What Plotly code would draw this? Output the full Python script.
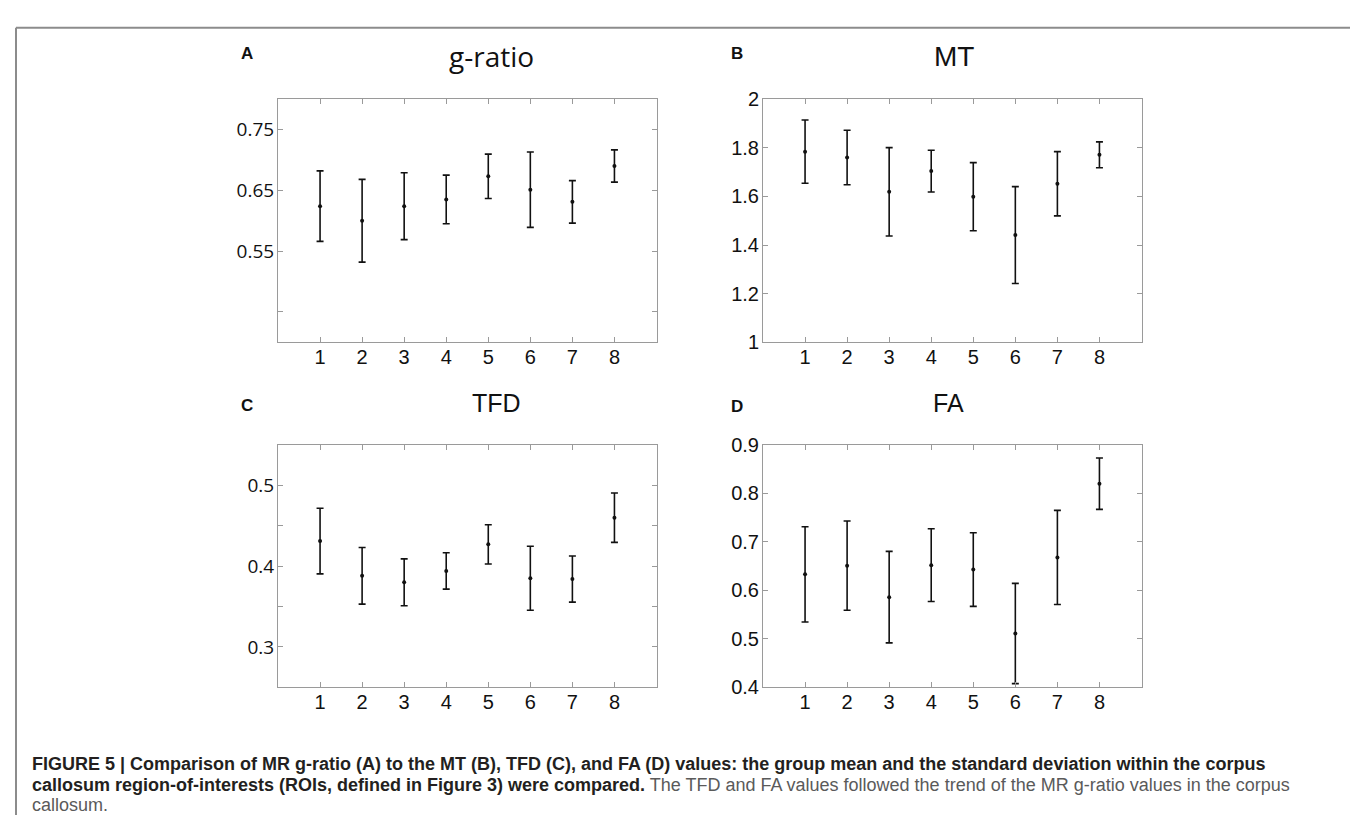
import plotly.graph_objects as go

W, H = 1358, 818

# ---------------- data ----------------
rois = [1, 2, 3, 4, 5, 6, 7, 8]
x_tick_labels = ["1", "2", "3", "4", "5", "6", "7", "8"]

gratio_mean = [0.624, 0.600, 0.624, 0.635, 0.673, 0.651, 0.631, 0.690]
gratio_sd = [0.058, 0.068, 0.055, 0.040, 0.0365, 0.062, 0.035, 0.0265]

mt_mean = [1.784, 1.760, 1.619, 1.704, 1.599, 1.441, 1.652, 1.771]
mt_sd = [0.130, 0.112, 0.1815, 0.086, 0.140, 0.199, 0.132, 0.053]

tfd_mean = [0.431, 0.388, 0.380, 0.394, 0.427, 0.385, 0.384, 0.460]
tfd_sd = [0.0406, 0.035, 0.029, 0.0225, 0.0243, 0.0396, 0.0286, 0.0306]

fa_mean = [0.633, 0.651, 0.586, 0.652, 0.643, 0.511, 0.668, 0.820]
fa_sd = [0.0983, 0.092, 0.0944, 0.075, 0.076, 0.1034, 0.097, 0.053]

gratio_yticks = [0.45, 0.55, 0.65, 0.75]
gratio_ylabels = ["", "0.55", "0.65", "0.75"]
mt_yticks = [1, 1.2, 1.4, 1.6, 1.8, 2]
mt_ylabels = ["1", "1.2", "1.4", "1.6", "1.8", "2"]
tfd_yticks = [0.3, 0.35, 0.4, 0.45, 0.5]
tfd_ylabels = ["0.3", "", "0.4", "", "0.5"]
fa_yticks = [0.4, 0.5, 0.6, 0.7, 0.8, 0.9]
fa_ylabels = ["0.4", "0.5", "0.6", "0.7", "0.8", "0.9"]

titles = ["g-ratio", "MT", "TFD", "FA"]
panel_letters = ["A", "B", "C", "D"]
caption_bold_1 = ("FIGURE 5 | Comparison of MR g-ratio (A) to the MT (B), TFD (C), and FA (D) values: "
                  "the group mean and the standard deviation within the corpus")
caption_bold_2 = "callosum region-of-interests (ROIs, defined in Figure 3) were compared."
caption_norm_2 = " The TFD and FA values followed the trend of the MR g-ratio values in the corpus"
caption_norm_3 = "callosum."

# ---------------- geometry helpers ----------------
def px_x(v):
    return v / W

def px_y(v):
    return 1 - v / H

panels = [
    dict(mean=gratio_mean, sd=gratio_sd, yr=[0.4, 0.8], yt=gratio_yticks, yl=gratio_ylabels,
         xd=[px_x(270), px_x(648.5)], yd=[px_y(332.3), px_y(82.3)], yfont="Open Sans", yfs=19,
         xfont="Liberation Sans", xfs=20),
    dict(mean=mt_mean, sd=mt_sd, yr=[1, 2], yt=mt_yticks, yl=mt_ylabels,
         xd=[px_x(755), px_x(1133.5)], yd=[px_y(332.3), px_y(82.3)], yfont="Liberation Sans", yfs=20,
         xfont="Liberation Sans", xfs=20),
    dict(mean=tfd_mean, sd=tfd_sd, yr=[0.25, 0.55], yt=tfd_yticks, yl=tfd_ylabels,
         xd=[px_x(270), px_x(648.5)], yd=[px_y(686.8), px_y(437.7)], yfont="Open Sans", yfs=19,
         xfont="Liberation Sans", xfs=20),
    dict(mean=fa_mean, sd=fa_sd, yr=[0.4, 0.9], yt=fa_yticks, yl=fa_ylabels,
         xd=[px_x(755), px_x(1133.5)], yd=[px_y(686.8), px_y(437.7)], yfont="Liberation Sans", yfs=20,
         xfont="Liberation Sans", xfs=20),
]

fig = go.Figure()
layout = dict(
    width=W, height=H, autosize=False,
    margin=dict(l=0, r=0, t=0, b=0),
    paper_bgcolor="white", plot_bgcolor="white",
    showlegend=False,
)

axis_color = "#9a9a9a"
for i, p in enumerate(panels):
    n = "" if i == 0 else str(i + 1)
    fig.add_trace(go.Scatter(
        x=rois, y=p["mean"], mode="markers",
        marker=dict(color="#111111", size=4),
        error_y=dict(type="data", array=p["sd"], symmetric=True,
                     color="#111111", thickness=1.6, width=3.5),
        xaxis="x" + n, yaxis="y" + n,
    ))
    layout["xaxis" + n] = dict(
        domain=p["xd"], anchor="y" + n, range=[0, 9],
        tickmode="array", tickvals=rois, ticktext=x_tick_labels,
        ticks="inside", ticklen=5, tickcolor=axis_color, tickwidth=1,
        showline=True, linecolor=axis_color, linewidth=1, mirror="ticks",
        showgrid=False, zeroline=False, ticklabelstandoff=-3,
        tickfont=dict(family=p["xfont"], size=p["xfs"], color="#111111"),
    )
    layout["yaxis" + n] = dict(
        domain=p["yd"], anchor="x" + n, range=p["yr"],
        tickmode="array", tickvals=p["yt"], ticktext=p["yl"],
        ticks="inside", ticklen=5, tickcolor=axis_color, tickwidth=1,
        showline=True, linecolor=axis_color, linewidth=1, mirror="ticks",
        showgrid=False, zeroline=False, ticklabelstandoff=-1,
        tickfont=dict(family=p["yfont"], size=p["yfs"], color="#111111"),
    )

fig.update_layout(**layout)

annotations = []
# panel letters
letter_pos = [(239.3, 35.7), (729, 35.7), (239.3, 397.3), (729, 398)]
for letter, (lx, ly) in zip(panel_letters, letter_pos):
    annotations.append(dict(
        text="<b>" + letter + "</b>", x=px_x(lx), y=px_y(ly), xref="paper", yref="paper",
        xanchor="center", yanchor="middle", showarrow=False,
        font=dict(family="Liberation Sans", size=17, color="#111111"),
    ))

# panel titles
title_specs = [
    (483.3, 38.5, "Open Sans", 28),
    (945.7, 38.5, "Liberation Sans", 28),
    (488.3, 394.5, "Liberation Sans", 25),
    (940.7, 394.5, "Liberation Sans", 25),
]
for t, (tx, ty, ff, fs) in zip(titles, title_specs):
    annotations.append(dict(
        text=t, x=px_x(tx), y=px_y(ty), xref="paper", yref="paper",
        xanchor="center", yanchor="middle", showarrow=False,
        font=dict(family=ff, size=fs, color="#111111"),
    ))

# caption
cap_font = dict(family="Liberation Sans", size=18, color="#231f20")
annotations.append(dict(
    text="<b>" + caption_bold_1 + "</b>", x=px_x(22), y=px_y(766), xref="paper", yref="paper",
    xanchor="left", yanchor="middle", showarrow=False, font=cap_font, align="left",
))
annotations.append(dict(
    text="<b>" + caption_bold_2 + "</b><span style='color:#5a5a5a'>" + caption_norm_2 + "</span>",
    x=px_x(22), y=px_y(787), xref="paper", yref="paper",
    xanchor="left", yanchor="middle", showarrow=False, font=cap_font, align="left",
))
annotations.append(dict(
    text="<span style='color:#5a5a5a'>" + caption_norm_3 + "</span>",
    x=px_x(22), y=px_y(808), xref="paper", yref="paper",
    xanchor="left", yanchor="middle", showarrow=False, font=cap_font, align="left",
))
fig.update_layout(annotations=annotations)

# outer frame (left, top, right lines)
border = dict(color="#8c8c8c", width=2)
fig.add_shape(type="line", xref="paper", yref="paper", x0=px_x(8), x1=px_x(8), y0=0, y1=px_y(9), line=border)
fig.add_shape(type="line", xref="paper", yref="paper", x0=px_x(8), x1=px_x(1355), y0=px_y(9), y1=px_y(9), line=border)
fig.add_shape(type="line", xref="paper", yref="paper", x0=px_x(1355), x1=px_x(1355), y0=0, y1=px_y(9), line=border)

fig.write_html("out.html")
